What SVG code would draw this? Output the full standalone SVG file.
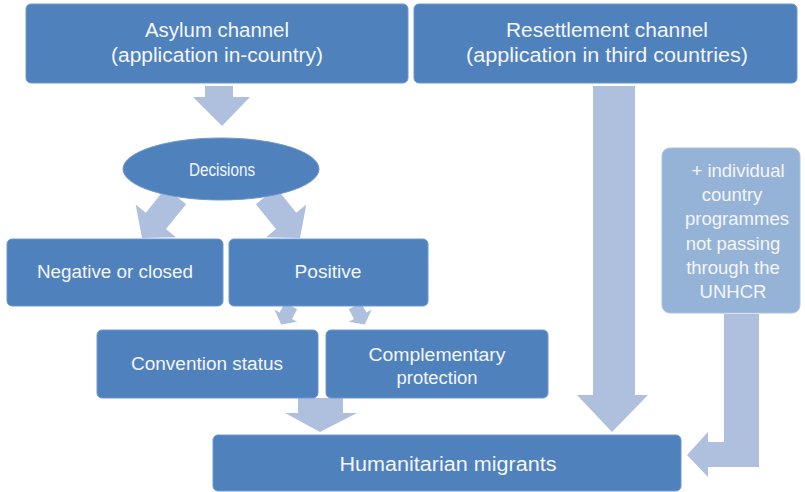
<svg xmlns="http://www.w3.org/2000/svg" width="805" height="492" viewBox="0 0 805 492">
<style>
.box{fill:#4f81bd;stroke:#6f98cc;stroke-width:1}
.lbox{fill:#95b3d7;stroke:#aac2e0;stroke-width:1}
.arr{fill:#aec0de}
text{font-family:"Liberation Sans",Arial,sans-serif;fill:#f4f6fa;text-anchor:middle}
.t20{font-size:20px}
.t18{font-size:18px}
.t185{font-size:18.5px}
</style>
<rect width="805" height="492" fill="#ffffff"/>
<g id="connectors">
<polygon class="arr" points="205,86 233,86 233,97 250,97 222,126 193,97 205,97"/>
<polygon class="arr" transform="translate(176,196) rotate(129)" points="0,-13 32,-13 32,-26 54,0 32,26 32,13 0,13"/>
<polygon class="arr" transform="translate(266,196) rotate(51)" points="0,-13 32,-13 32,-26 54,0 32,26 32,13 0,13"/>
<polygon class="arr" transform="translate(291,306) rotate(118)" points="0,-7 11,-7 11,-13 21,0 11,13 11,7 0,7"/>
<polygon class="arr" transform="translate(355,306) rotate(62)" points="0,-7 11,-7 11,-13 21,0 11,13 11,7 0,7"/>
<polygon class="arr" points="298,398 343,398 343,413 357,413 320,432 285,413 298,413"/>
<polygon class="arr" points="593,86 635,86 635,395 648,395 612,432 577,395 593,395"/>
<polygon class="arr" points="724,314 759,314 759,467 708,467 708,477 687,455 708,432 708,442 724,442"/>
</g>
<g id="asylum">
<rect class="box" x="26" y="4" width="382" height="79" rx="5"/>
<text class="t20" x="217" y="37" textLength="144" lengthAdjust="spacingAndGlyphs">Asylum channel</text>
<text class="t20" x="217" y="62" textLength="212" lengthAdjust="spacingAndGlyphs">(application in-country)</text>
</g>
<g id="resettlement">
<rect class="box" x="414" y="4" width="383" height="79" rx="5"/>
<text class="t20" x="607" y="37" textLength="202" lengthAdjust="spacingAndGlyphs">Resettlement channel</text>
<text class="t20" x="607" y="62" textLength="282" lengthAdjust="spacingAndGlyphs">(application in third countries)</text>
</g>
<g id="decisions">
<ellipse class="box" cx="221" cy="169" rx="98" ry="31"/>
<text class="t18" x="222" y="176" textLength="66" lengthAdjust="spacingAndGlyphs">Decisions</text>
</g>
<g id="negative">
<rect class="box" x="7" y="239" width="216" height="67" rx="5"/>
<text class="t18" x="115" y="278" textLength="156" lengthAdjust="spacingAndGlyphs">Negative or closed</text>
</g>
<g id="positive">
<rect class="box" x="229" y="239" width="199" height="67" rx="5"/>
<text class="t18" x="328" y="278" textLength="67" lengthAdjust="spacingAndGlyphs">Positive</text>
</g>
<g id="convention">
<rect class="box" x="97" y="330" width="221" height="68" rx="5"/>
<text class="t18" x="207" y="370" textLength="152" lengthAdjust="spacingAndGlyphs">Convention status</text>
</g>
<g id="complementary">
<rect class="box" x="326" y="330" width="222" height="68" rx="5"/>
<text class="t18" x="437" y="361" textLength="137" lengthAdjust="spacingAndGlyphs">Complementary</text>
<text class="t18" x="437" y="384" textLength="81" lengthAdjust="spacingAndGlyphs">protection</text>
</g>
<g id="humanitarian">
<rect class="box" x="213" y="435" width="468" height="56" rx="5"/>
<text class="t20" x="448" y="471" textLength="217" lengthAdjust="spacingAndGlyphs">Humanitarian migrants</text>
</g>
<g id="individual">
<rect class="lbox" x="662" y="148" width="138" height="165" rx="8"/>
<text class="t185" x="738" y="177">+ individual</text>
<text class="t185" x="732" y="201">country</text>
<text class="t185" x="737" y="225">programmes</text>
<text class="t185" x="733" y="250">not passing</text>
<text class="t185" x="733" y="274">through the</text>
<text class="t185" x="733" y="298">UNHCR</text>
</g>
</svg>
